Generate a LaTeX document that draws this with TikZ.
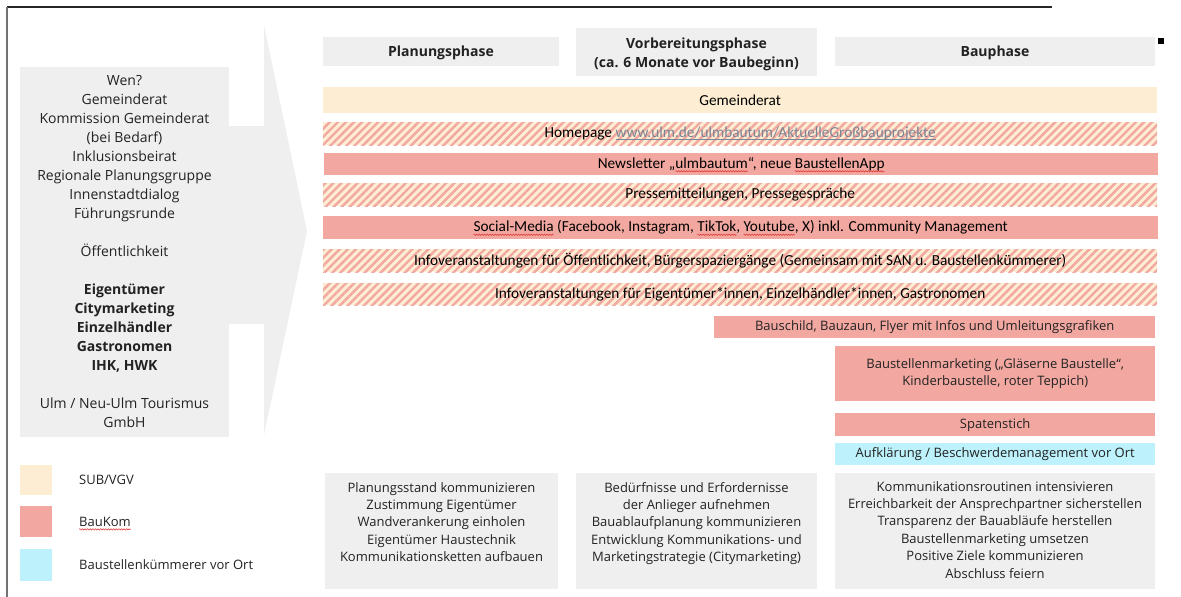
\documentclass[tikz,border=0pt]{standalone}
\usepackage{fontspec}
\setmainfont{Open Sans}
\newfontfamily\carl{Carlito}
\usetikzlibrary{patterns.meta,decorations.pathmorphing}
\definecolor{panelgray}{HTML}{EFEFEF}
\definecolor{cream}{HTML}{FDEED3}
\definecolor{salmon}{HTML}{F2A8A1}
\definecolor{cyanbox}{HTML}{BDF2FC}
\definecolor{txt}{HTML}{222222}
\definecolor{linkc}{HTML}{7A8595}
\definecolor{waved}{HTML}{E03030}
\newsavebox\mybox
\newcommand\mywave[1]{\sbox\mybox{#1}\rlap{\tikz[overlay,x=1pt,y=1pt]\draw[waved,line width=0.5pt,decorate,decoration={zigzag,segment length=2.6pt,amplitude=0.7pt}] (0,-2.8) -- (\the\wd\mybox,-2.8);}\usebox\mybox}
\newcommand\myul[1]{\sbox\mybox{#1}\rlap{\rule[-2pt]{\wd\mybox}{0.8pt}}\usebox\mybox}
\tikzset{
  rbox/.style={inner sep=0pt, anchor=north west, text=txt},
  barfont/.style={font=\carl\fontsize{15.3}{17}\selectfont, text=black},
  bodyfont/.style={font=\fontsize{13}{17.4}\selectfont, align=center},
  headfont/.style={font=\bfseries\fontsize{14}{19}\selectfont, align=center},
  hatched/.style={fill=cream, postaction={pattern={Lines[angle=45,distance=5.7pt,line width=2.4pt]}, pattern color=salmon}},
  solidbau/.style={fill=salmon},
}
\begin{document}
\begin{tikzpicture}[x=1pt,y=-1pt]
\useasboundingbox (0,0) rectangle (1181,597);
% frame lines
\draw[line width=1.3pt, black!85] (7,7) -- (1052,7);
\draw[line width=2pt, black!55] (7,7) -- (7,597);
% arrow shape
\fill[panelgray] (228,126) -- (264,126) -- (264,25) -- (307,231) -- (264,435) -- (264,324) -- (228,324) -- cycle;
% left panel
\node[rbox, fill=panelgray, minimum width=209pt, minimum height=370pt] (panel) at (20,67) {};
\node[font=\fontsize{14}{19}\selectfont, align=center, text=txt, anchor=north, inner sep=0pt] (panelText) at (124.5,75.5) {Wen?\\ Gemeinderat\\ Kommission Gemeinderat\\ (bei Bedarf)\\ Inklusionsbeirat\\ Regionale Planungsgruppe\\ Innenstadtdialog\\ Führungsrunde\\[19pt] Öffentlichkeit\\[19pt] \textbf{Eigentümer}\\ \textbf{Citymarketing}\\ \textbf{Einzelhändler}\\ \textbf{Gastronomen}\\ \textbf{IHK, HWK}\\[19pt] Ulm / Neu-Ulm Tourismus\\ GmbH};
% phase headers
\node[rbox, fill=panelgray, minimum width=236pt, minimum height=29pt] (ph1) at (323,37) {};
\node[rbox, fill=panelgray, minimum width=241pt, minimum height=48pt] (ph2) at (576,28) {};
\node[rbox, fill=panelgray, minimum width=320pt, minimum height=29pt] (ph3) at (835,37) {};
\node[headfont, text=txt, inner sep=0pt] (ph1t) at (441,53) {Planungsphase};
\node[headfont, text=txt, inner sep=0pt] (ph2t) at (696.5,54) {Vorbereitungsphase\\ (ca. 6 Monate vor Baubeginn)};
\node[headfont, text=txt, inner sep=0pt] (ph3t) at (995,53) {Bauphase};
\fill[black] (1158,38) rectangle (1164,44);
% bars
\node[rbox, fill=cream, minimum width=834pt, minimum height=26pt, barfont] (b1) at (323,87) {Gemeinderat};
\node[rbox, hatched, minimum width=834pt, minimum height=23pt, barfont] (b2) at (323,122) {Homepage \textcolor{linkc}{\myul{www.ulm.de/ulmbautum/AktuelleGroßbauprojekte}}};
\node[rbox, solidbau, minimum width=834pt, minimum height=22pt, barfont] (b3) at (324,153) {Newsletter „\mywave{ulmbautum}“, neue \mywave{BaustellenApp}};
\node[rbox, hatched, minimum width=834pt, minimum height=23pt, barfont] (b4) at (323,183) {Pressemitteilungen, Pressegespräche};
\node[rbox, solidbau, minimum width=835pt, minimum height=23pt, barfont] (b5) at (323,216) {\mywave{Social-Media} (Facebook, Instagram, \mywave{TikTok}, \mywave{Youtube}, X) inkl. Community Management};
\node[rbox, hatched, minimum width=834pt, minimum height=23pt, barfont] (b6) at (323,249) {Infoveranstaltungen für Öffentlichkeit, Bürgerspaziergänge (Gemeinsam mit SAN u. Baustellenkümmerer)};
\node[rbox, hatched, minimum width=834pt, minimum height=22pt, barfont] (b7) at (323,283) {Infoveranstaltungen für Eigentümer*innen, Einzelhändler*innen, Gastronomen};
\node[rbox, solidbau, minimum width=441pt, minimum height=22pt, bodyfont] (b8) at (714,316) {Bauschild, Bauzaun, Flyer mit Infos und Umleitungsgrafiken};
\node[rbox, solidbau, minimum width=320pt, minimum height=55pt, bodyfont] (b9) at (835,346) {Baustellenmarketing („Gläserne Baustelle“,\\ Kinderbaustelle, roter Teppich)};
\node[rbox, solidbau, minimum width=320pt, minimum height=23pt, bodyfont] (b10) at (835,413) {Spatenstich};
\node[rbox, fill=cyanbox, minimum width=320pt, minimum height=22pt, bodyfont] (b11) at (835,443) {Aufklärung / Beschwerdemanagement vor Ort};
% bottom boxes
\node[rbox, fill=panelgray, minimum width=233pt, minimum height=116pt] (c1) at (325,473) {};
\node[rbox, fill=panelgray, minimum width=241pt, minimum height=116pt] (c2) at (576,473) {};
\node[rbox, fill=panelgray, minimum width=320pt, minimum height=116pt] (c3) at (835,473) {};
\node[bodyfont, text=txt, anchor=north, inner sep=0pt] (c1t) at (441.5,482) {Planungsstand kommunizieren\\ Zustimmung Eigentümer\\ Wandverankerung einholen\\ Eigentümer Haustechnik\\ Kommunikationsketten aufbauen};
\node[bodyfont, text=txt, anchor=north, inner sep=0pt] (c2t) at (696.5,482) {Bedürfnisse und Erfordernisse\\ der Anlieger aufnehmen\\ Bauablaufplanung kommunizieren\\ Entwicklung Kommunikations- und\\ Marketingstrategie (Citymarketing)};
\node[bodyfont, text=txt, anchor=north, inner sep=0pt] (c3t) at (995,481) {Kommunikationsroutinen intensivieren\\ Erreichbarkeit der Ansprechpartner sicherstellen\\ Transparenz der Bauabläufe herstellen\\ Baustellenmarketing umsetzen\\ Positive Ziele kommunizieren\\ Abschluss feiern};
% legend
\node[rbox, fill=cream, minimum width=32pt, minimum height=30pt] (l1) at (20,465) {};
\node[rbox, fill=salmon, minimum width=32pt, minimum height=31pt] (l2) at (20,506) {};
\node[rbox, fill=cyanbox, minimum width=32pt, minimum height=32pt] (l3) at (20,549) {};
\node[anchor=west, inner sep=0pt, text=txt, font=\fontsize{13}{16}\selectfont] (l1t) at (79,480) {SUB/VGV};
\node[anchor=west, inner sep=0pt, text=txt, font=\fontsize{13}{16}\selectfont] (l2t) at (79,522) {\mywave{BauKom}};
\node[anchor=west, inner sep=0pt, text=txt, font=\fontsize{13}{16}\selectfont] (l3t) at (79,565) {Baustellenkümmerer vor Ort};
\end{tikzpicture}
\end{document}
